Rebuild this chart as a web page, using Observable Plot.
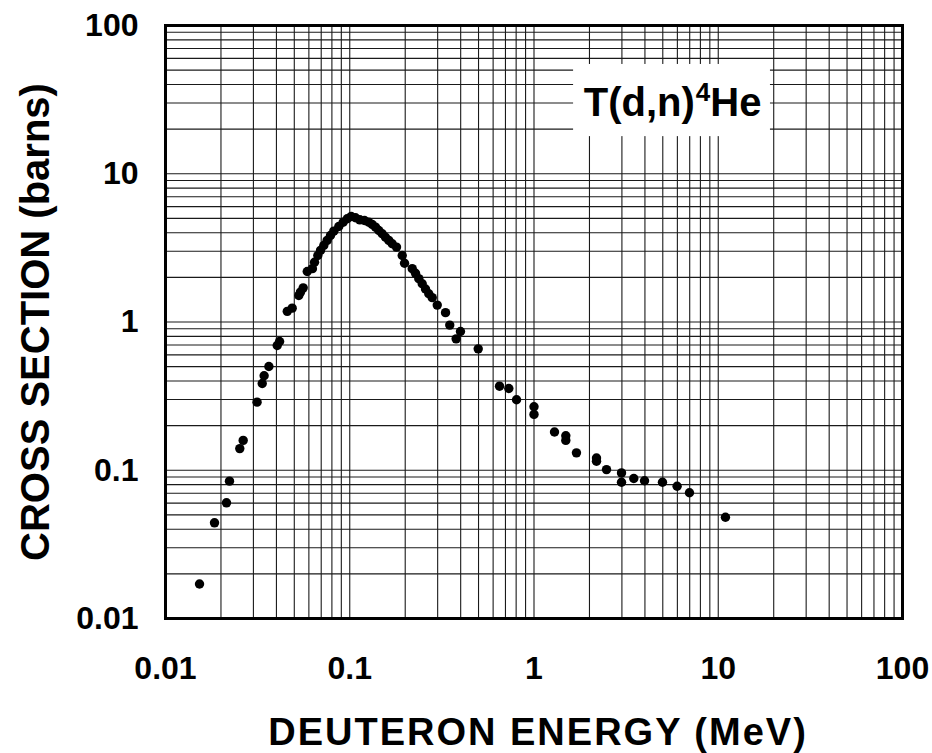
<!DOCTYPE html>
<html>
<head>
<meta charset="utf-8">
<script src="https://cdn.jsdelivr.net/npm/d3@7"></script>
<script src="https://cdn.jsdelivr.net/npm/@observablehq/plot@0.6"></script>
<style>
  html, body { margin: 0; padding: 0; background: #ffffff; }
</style>
</head>
<body>
<div id="chart"></div>
<script>
// Deuteron energy (MeV)
const energy = [
  0.0153, 0.01845, 0.02143, 0.02225, 0.0253, 0.0264, 0.0314, 0.0335, 0.0343, 0.0364,
  0.0404, 0.0416, 0.0458, 0.0487, 0.0529, 0.0540, 0.0559, 0.0588, 0.0627, 0.0644,
  0.0671, 0.0694, 0.0723, 0.0754, 0.0786, 0.0819, 0.0872, 0.0921, 0.0969, 0.1018,
  0.1074, 0.1134, 0.1202, 0.1269, 0.1324, 0.138, 0.1438, 0.150, 0.1563, 0.1629,
  0.170, 0.1794, 0.1927, 0.1983, 0.2183, 0.2275, 0.237, 0.2473, 0.2577, 0.2685,
  0.2803, 0.2984, 0.331, 0.349, 0.378, 0.399, 0.498, 0.650, 0.730, 0.804,
  1.0, 1.0, 1.292, 1.488, 1.488, 1.70, 2.184, 2.184, 2.475, 2.985,
  2.985, 3.48, 3.98, 4.98, 5.98, 6.98, 10.94
];
// Cross section (barns)
const sigma = [
  0.0171, 0.0442, 0.0603, 0.0844, 0.140, 0.159, 0.288, 0.385, 0.434, 0.501,
  0.694, 0.739, 1.18, 1.24, 1.51, 1.59, 1.70, 2.19, 2.29, 2.53,
  2.81, 3.04, 3.28, 3.55, 3.83, 4.10, 4.41, 4.71, 4.97, 5.15,
  5.05, 4.89, 4.84, 4.71, 4.55, 4.36, 4.14, 3.94, 3.73, 3.55,
  3.37, 3.20, 2.81, 2.49, 2.29, 2.13, 1.96, 1.81, 1.67, 1.55,
  1.46, 1.30, 1.156, 0.953, 0.770, 0.863, 0.659, 0.369, 0.356, 0.299,
  0.268, 0.238, 0.181, 0.171, 0.159, 0.131, 0.121, 0.115, 0.101, 0.096,
  0.083, 0.088, 0.085, 0.083, 0.078, 0.0705, 0.0482
];

const xTicks = [0.01, 0.1, 1, 10, 100];
const xTickLabels = ["0.01", "0.1", "1", "10", "100"];
const yTicks = [0.01, 0.1, 1, 10, 100];
const yTickLabels = ["0.01", "0.1", "1", "10", "100"];
const xTitle = "DEUTERON ENERGY (MeV)";
const yTitle = "CROSS SECTION (barns)";
const reactionParts = ["T(d,n)", "4", "He"];
const reactionText = reactionParts.join("");

// log grid: 1..9 x 10^k over four decades
const gridValues = d3.range(-2, 2)
  .flatMap(e => d3.range(1, 10).map(m => +(m * Math.pow(10, e)).toPrecision(6)))
  .concat([100]);

// label box placement (data units)
const boxSpec = {x1: 1.64, x2: 19.2, y1: 17.8, y2: 54.6};
const labelSpec = {x: 5.65, y: 29.8};

const data = energy.map((e, i) => ({e, s: sigma[i]}));

const chart = Plot.plot({
  width: 932,
  height: 753,
  marginLeft: 165,
  marginRight: 30,
  marginTop: 25,
  marginBottom: 135,
  style: {
    fontFamily: "'Liberation Sans', Arial, Helvetica, sans-serif",
    fontSize: "32px",
    fontWeight: "bold",
    background: "#ffffff",
    color: "#000000"
  },
  x: {
    type: "log",
    domain: [0.01, 100],
    ticks: xTicks,
    tickFormat: d => xTickLabels[xTicks.indexOf(d)],
    tickSize: 0,
    tickPadding: 38,
    label: null
  },
  y: {
    type: "log",
    domain: [0.01, 100],
    ticks: yTicks,
    tickFormat: d => yTickLabels[yTicks.indexOf(d)],
    tickSize: 0,
    tickPadding: 27,
    label: null
  },
  marks: [
    Plot.ruleX(gridValues, {stroke: "#1a1a1a", strokeWidth: 1.1}),
    Plot.ruleY(gridValues, {stroke: "#1a1a1a", strokeWidth: 1.1}),
    Plot.rect([boxSpec], {x1: "x1", x2: "x2", y1: "y1", y2: "y2", fill: "#ffffff"}),
    Plot.text([labelSpec], {x: "x", y: "y", text: () => reactionText, fontSize: 40, fontWeight: "bold", fill: "#000", textAnchor: "middle", lineAnchor: "middle"}),
    Plot.dot(data, {x: "e", y: "s", r: 4.7, fill: "#000", stroke: "none"}),
    Plot.frame({stroke: "#000", strokeWidth: 3}),
    Plot.text([xTitle], {frameAnchor: "bottom", dy: 114, dx: 4, text: d => d, fontSize: 38, fontWeight: "bold", fill: "#000", textAnchor: "middle", lineAnchor: "middle"}),
    Plot.text([yTitle], {frameAnchor: "left", dx: -129, rotate: -90, text: d => d, fontSize: 40, fontWeight: "bold", fill: "#000", textAnchor: "middle", lineAnchor: "middle"})
  ]
});

document.getElementById("chart").appendChild(chart);

// superscript 4 in the reaction label, letter spacing in the x title
const NS = "http://www.w3.org/2000/svg";
chart.querySelectorAll("text").forEach(t => {
  if (t.textContent === reactionText) {
    while (t.firstChild) t.removeChild(t.firstChild);
    const a = document.createElementNS(NS, "tspan");
    a.textContent = reactionParts[0];
    const b = document.createElementNS(NS, "tspan");
    b.textContent = reactionParts[1];
    b.setAttribute("font-size", "26");
    b.setAttribute("dy", "-15");
    b.setAttribute("dx", "1");
    const c = document.createElementNS(NS, "tspan");
    c.textContent = reactionParts[2];
    c.setAttribute("font-size", "40");
    c.setAttribute("dy", "15");
    t.appendChild(a); t.appendChild(b); t.appendChild(c);
  } else if (t.textContent === xTitle) {
    t.style.letterSpacing = "2px";
  }
});
</script>
</body>
</html>
